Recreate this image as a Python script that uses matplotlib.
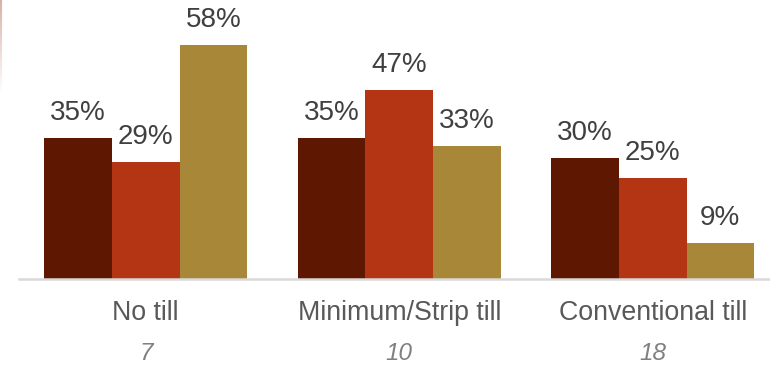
import numpy as np
import matplotlib.pyplot as plt
from matplotlib.collections import LineCollection

categories = ["No till", "Minimum/Strip till", "Conventional till"]
counts = [7, 10, 18]
series_a = [35, 35, 30]
series_b = [29, 47, 25]
series_c = [58, 33, 9]

colors = ["#5E1700", "#B43514", "#A88838"]

plt.rcParams['font.family'] = ['Liberation Sans', 'DejaVu Sans']

fig = plt.figure(figsize=(7.7, 3.68), dpi=100)
ax = fig.add_axes([19 / 770, 89 / 368, 751 / 770, 279 / 368])

x = np.arange(len(categories))
width = 0.8 / 3

bars = []
for i, (vals, c) in enumerate(zip([series_a, series_b, series_c], colors)):
    b = ax.bar(x + (i - 1) * width, vals, width, color=c, linewidth=0)
    bars.append(b)
    ax.bar_label(b, labels=[f"{v}%" for v in vals], padding=8.5,
                 fontsize=20, color="#404040")

ax.set_xlim(-0.5, -0.5 + 751 / 253.5)
ax.set_ylim(0, 69.2)

for s in ["top", "left", "right"]:
    ax.spines[s].set_visible(False)
ax.spines["bottom"].set_color("#d9d9d9")
ax.spines["bottom"].set_linewidth(1.8)
ax.set_yticks([])
ax.set_xticks([])

for xi, cat, n in zip(x, categories, counts):
    ax.annotate(cat, xy=(xi, 0), xytext=(0, -24.5), textcoords="offset points",
                ha="center", va="center", fontsize=19.3, color="#595959")
    ax.annotate(str(n), xy=(xi, 0), xytext=(0, -54), textcoords="offset points",
                ha="center", va="center", fontsize=17.5, color="#808080",
                style="italic")

# faint accent line at the top-left edge
ys = np.linspace(1.0, 1 - 95 / 368, 40)
segs = [[(1.2 / 770, ys[k]), (1.2 / 770, ys[k + 1])] for k in range(len(ys) - 1)]
alphas = np.linspace(0.55, 0.0, len(segs))
lc = LineCollection(segs, colors=[(0.72, 0.45, 0.38, a) for a in alphas],
                    linewidths=1.5, transform=fig.transFigure)
fig.add_artist(lc)

fig.savefig("out.png", dpi=100)
